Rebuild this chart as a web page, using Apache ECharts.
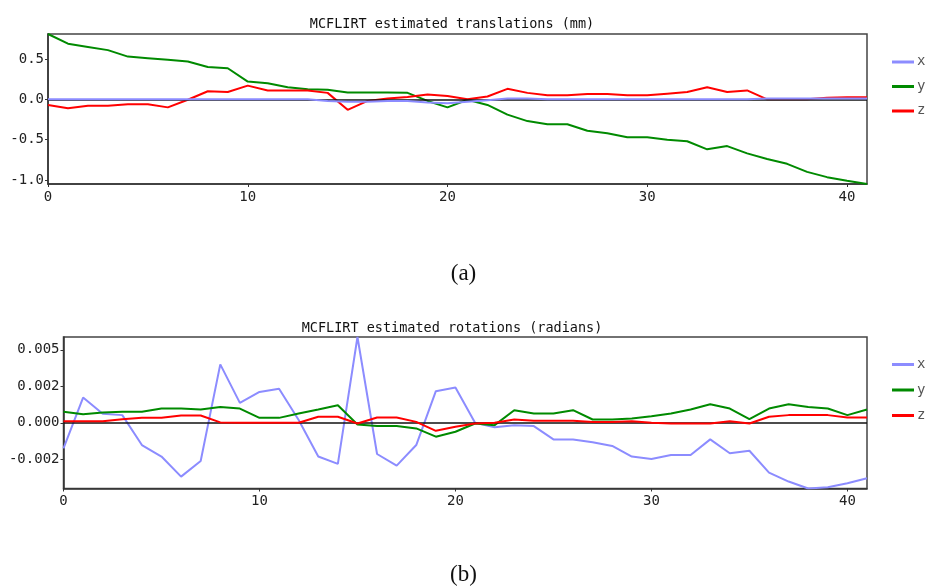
<!DOCTYPE html>
<html>
<head>
<meta charset="utf-8">
<script src="https://cdn.jsdelivr.net/npm/echarts@6/dist/echarts.min.js"></script>
<style>html,body{margin:0;padding:0;background:#fff}#c{width:927px;height:588px}</style>
</head>
<body>
<div id="c"></div>
<script>
const volumes = [0,1,2,3,4,5,6,7,8,9,10,11,12,13,14,15,16,17,18,19,20,21,22,23,24,25,26,27,28,29,30,31,32,33,34,35,36,37,38,39,40,41];

const transTitle = 'MCFLIRT estimated translations (mm)';
const rotTitle = 'MCFLIRT estimated rotations (radians)';
const seriesNames = ['x', 'y', 'z'];

const transX = [0,0,0,0,0,0,0,0,0,0,0,0,0,0,-0.02,-0.03,-0.03,-0.02,-0.02,-0.04,-0.05,-0.03,-0.01,0.01,0.01,0,0,0,0,0,0,0,0,0,0,0,0.01,0.01,0.01,0.01,0.01,0.01];
const transY = [0.81,0.69,0.65,0.61,0.53,0.51,0.49,0.47,0.40,0.385,0.22,0.20,0.15,0.125,0.12,0.085,0.085,0.085,0.08,-0.02,-0.10,-0.005,-0.07,-0.19,-0.27,-0.31,-0.31,-0.39,-0.42,-0.47,-0.47,-0.50,-0.52,-0.62,-0.58,-0.67,-0.74,-0.80,-0.90,-0.965,-1.01,-1.05];
const transZ = [-0.07,-0.11,-0.08,-0.08,-0.06,-0.06,-0.10,-0.005,0.10,0.09,0.17,0.11,0.11,0.11,0.08,-0.13,-0.02,0.01,0.03,0.06,0.04,0.0,0.035,0.13,0.08,0.05,0.05,0.065,0.065,0.05,0.05,0.07,0.09,0.15,0.09,0.11,0.0,0.0,0.0,0.02,0.025,0.025];

const rotX = [-0.0014,0.00138,0.0005,0.00042,-0.00122,-0.00185,-0.00295,-0.00209,0.0032,0.00109,0.00169,0.00187,0.00015,-0.00185,-0.00225,0.0047,-0.00171,-0.00235,-0.00122,0.00173,0.00193,0.0,-0.00025,-0.00013,-0.00018,-0.00091,-0.00091,-0.00107,-0.00127,-0.00185,-0.00198,-0.00176,-0.00176,-0.00091,-0.00167,-0.00153,-0.00273,-0.00322,-0.0036,-0.00353,-0.00331,-0.00304];
const rotY = [0.0006,0.00047,0.00056,0.0006,0.0006,0.00078,0.00078,0.00073,0.00087,0.00078,0.00027,0.00027,0.00051,0.00073,0.00096,-0.00009,-0.00018,-0.00018,-0.00031,-0.00076,-0.00049,-0.00004,-0.00013,0.00069,0.00051,0.00051,0.00069,0.00018,0.00018,0.00024,0.00036,0.00051,0.00073,0.00102,0.00078,0.0002,0.00078,0.00102,0.00087,0.00078,0.00042,0.00073];
const rotZ = [0.00009,0.00009,0.00009,0.0002,0.00027,0.00027,0.0004,0.0004,0.00002,0,0,0,0,0.00033,0.00033,-0.00004,0.00029,0.00029,0.00005,-0.00044,-0.00022,-0.00004,0,0.00018,0.00011,0.00011,0.00011,0.00004,0.00004,0.00009,0,-0.00004,-0.00004,-0.00004,0.00009,-0.00004,0.00033,0.00042,0.00042,0.00042,0.00029,0.00029];

const xTicks = [0,10,20,30,40];
const transTickValues = [-1.0,-0.5,0.0,0.5];
const transTickLabels = ['-1.0','-0.5','0.0','0.5'];
const rotTickValues = [-0.002,0.0,0.002,0.004];
const rotTickLabels = ['-0.002','0.000','0.002','0.005'];

const captions = ['(a)', '(b)'];

const colors = ['#8c8cff', '#008a00', '#ff0000'];
const mono = 'DejaVu Sans Mono';

function pairs(arr){ return volumes.map((v,i)=>[v, arr[i]]); }

function labelFor(values, labels){
  return function(v){
    for (let i=0;i<values.length;i++){ if (Math.abs(values[i]-v) < 1e-9) return labels[i]; }
    return '';
  };
}

const grids = [
  {left: 48, right: 60, top: 34, height: 150, show: true, borderColor: '#444', borderWidth: 1.5, backgroundColor: 'transparent'},
  {left: 63.5, right: 60, top: 337, height: 151.5, show: true, borderColor: '#444', borderWidth: 1.5, backgroundColor: 'transparent'}
];

function xAxis(gi){
  return {
    type: 'value', gridIndex: gi, min: 0, max: 41,
    axisLine: {show: true, onZero: false, lineStyle: {color: '#333', width: 1.5}},
    axisTick: {show: true, length: 3, customValues: xTicks, lineStyle: {color: '#333'}},
    axisLabel: {customValues: xTicks, color: '#222', fontFamily: mono, fontSize: 14, margin: 6},
    splitLine: {show: false}
  };
}
function yAxis(gi, mn, mx, vals, labs){
  return {
    type: 'value', gridIndex: gi, min: mn, max: mx,
    axisLine: {show: true, onZero: false, lineStyle: {color: '#333', width: 1.5}},
    axisTick: {show: true, length: 3, customValues: vals, lineStyle: {color: '#333'}},
    axisLabel: {customValues: vals, formatter: labelFor(vals, labs), color: '#222', fontFamily: mono, fontSize: 14, margin: 4},
    splitLine: {show: false}
  };
}

function lineSeries(name, data, gi, color, z){
  return {
    name: name, type: 'line', xAxisIndex: gi, yAxisIndex: gi,
    data: pairs(data), showSymbol: false, symbol: 'none', animation: false,
    lineStyle: {color: color, width: 2}, itemStyle: {color: color}, z: z
  };
}
function zeroSeries(gi){
  return {
    name: 'zero' + gi, type: 'line', xAxisIndex: gi, yAxisIndex: gi, data: [], z: 1,
    markLine: {silent: true, symbol: 'none', animation: false, label: {show: false},
      lineStyle: {color: '#111', width: 1.5, type: 'solid'}, data: [{yAxis: 0}]}
  };
}

// legend icons via legend component; text drawn as graphic (legend text is transparent but keeps spacing)
const legendText = {fontFamily: mono, fontSize: 14, color: 'rgba(0,0,0,0)', lineHeight: 14};

function legendLabels(top, gap){
  return seriesNames.map((n, i) => ({
    type: 'text', left: 917, top: top + i * gap,
    style: {text: n, font: '14px "DejaVu Sans Mono"', fill: '#555'}
  }));
}

const option = {
  animation: false,
  backgroundColor: '#fff',
  title: [
    {text: transTitle, left: 447, top: 12, textAlign: 'center', textStyle: {fontFamily: mono, fontSize: 13.5, fontWeight: 'normal', color: '#111'}},
    {text: rotTitle, left: 447, top: 316, textAlign: 'center', textStyle: {fontFamily: mono, fontSize: 13.5, fontWeight: 'normal', color: '#111'}}
  ],
  legend: [
    {data: seriesNames, orient: 'vertical', left: 887, top: 50, icon: 'rect', itemWidth: 22, itemHeight: 3, itemGap: 10.5, selectedMode: false,
      textStyle: legendText},
    {data: seriesNames, orient: 'vertical', left: 887, top: 352.5, icon: 'rect', itemWidth: 22, itemHeight: 3, itemGap: 11.5, selectedMode: false,
      textStyle: legendText}
  ],
  grid: grids,
  xAxis: [xAxis(0), xAxis(1)],
  yAxis: [yAxis(0, -1.05, 0.81, transTickValues, transTickLabels), yAxis(1, -0.0036, 0.0047, rotTickValues, rotTickLabels)],
  series: [
    zeroSeries(0),
    lineSeries('y', transY, 0, colors[1], 3),
    lineSeries('z', transZ, 0, colors[2], 4),
    lineSeries('x', transX, 0, colors[0], 5),
    zeroSeries(1),
    lineSeries('x', rotX, 1, colors[0], 3),
    lineSeries('y', rotY, 1, colors[1], 4),
    lineSeries('z', rotZ, 1, colors[2], 5)
  ],
  graphic: [
    {type: 'text', left: 'center', top: 262, style: {text: captions[0], font: '23px "Liberation Serif", "DejaVu Serif", serif', fill: '#111'}},
    {type: 'text', left: 'center', top: 563, style: {text: captions[1], font: '23px "Liberation Serif", "DejaVu Serif", serif', fill: '#111'}}
  ].concat(legendLabels(54.5, 24.5)).concat(legendLabels(357.5, 25.5))
};

const chart = echarts.init(document.getElementById('c'), null, {renderer: 'canvas'});
chart.setOption(option);
</script>
</body>
</html>
